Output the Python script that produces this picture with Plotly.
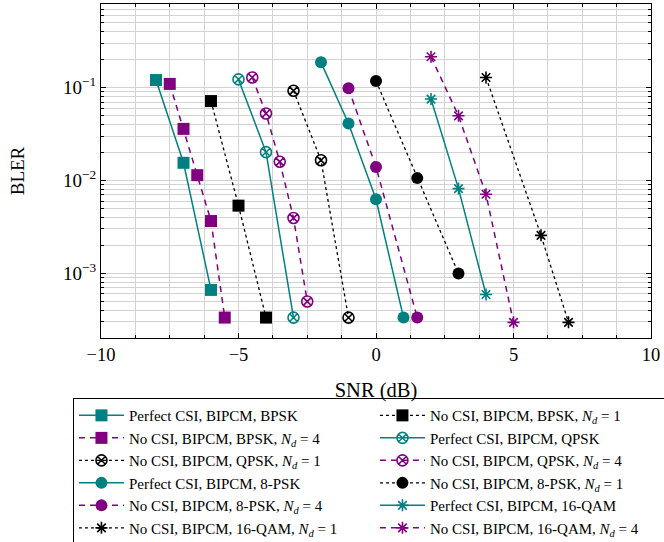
import plotly.graph_objects as go
import numpy as np

# ---- data ----
names = [
    "Perfect CSI, BIPCM, BPSK",
    "No CSI, BIPCM, BPSK, <i>N</i><sub><i>d</i></sub> = 1",
    "No CSI, BIPCM, BPSK, <i>N</i><sub><i>d</i></sub> = 4",
    "Perfect CSI, BIPCM, QPSK",
    "No CSI, BIPCM, QPSK, <i>N</i><sub><i>d</i></sub> = 1",
    "No CSI, BIPCM, QPSK, <i>N</i><sub><i>d</i></sub> = 4",
    "Perfect CSI, BIPCM, 8-PSK",
    "No CSI, BIPCM, 8-PSK, <i>N</i><sub><i>d</i></sub> = 1",
    "No CSI, BIPCM, 8-PSK, <i>N</i><sub><i>d</i></sub> = 4",
    "Perfect CSI, BIPCM, 16-QAM",
    "No CSI, BIPCM, 16-QAM, <i>N</i><sub><i>d</i></sub> = 1",
    "No CSI, BIPCM, 16-QAM, <i>N</i><sub><i>d</i></sub> = 4",
]

bpsk_perf_x = [-8, -7, -6]
bpsk_perf_y = [0.121, 0.0155, 6.6e-4]
bpsk_nd1_x = [-6, -5, -4]
bpsk_nd1_y = [0.0718, 0.00535, 3.32e-4]
bpsk_nd4_x = [-7.5, -7, -6.5, -6, -5.5]
bpsk_nd4_y = [0.11, 0.036, 0.0114, 0.00365, 3.32e-4]

qpsk_perf_x = [-5, -4, -3]
qpsk_perf_y = [0.123, 0.0202, 3.32e-4]
qpsk_nd1_x = [-3, -2, -1]
qpsk_nd1_y = [0.0929, 0.0165, 3.32e-4]
qpsk_nd4_x = [-4.5, -4, -3.5, -3, -2.5]
qpsk_nd4_y = [0.129, 0.0528, 0.0159, 0.00394, 4.95e-4]

psk8_perf_x = [-2, -1, 0, 1]
psk8_perf_y = [0.188, 0.0412, 0.00627, 3.32e-4]
psk8_nd1_x = [0, 1.5, 3]
psk8_nd1_y = [0.118, 0.0106, 9.9e-4]
psk8_nd4_x = [-1, 0, 1.5]
psk8_nd4_y = [0.0985, 0.014, 3.32e-4]

qam16_perf_x = [2, 3, 4]
qam16_perf_y = [0.0755, 0.00817, 5.89e-4]
qam16_nd1_x = [4, 6, 7]
qam16_nd1_y = [0.129, 0.00256, 2.95e-4]
qam16_nd4_x = [2, 3, 4, 5]
qam16_nd4_y = [0.216, 0.0498, 0.0071, 2.95e-4]

xs = [bpsk_perf_x, bpsk_nd1_x, bpsk_nd4_x, qpsk_perf_x, qpsk_nd1_x, qpsk_nd4_x,
      psk8_perf_x, psk8_nd1_x, psk8_nd4_x, qam16_perf_x, qam16_nd1_x, qam16_nd4_x]
ys = [bpsk_perf_y, bpsk_nd1_y, bpsk_nd4_y, qpsk_perf_y, qpsk_nd1_y, qpsk_nd4_y,
      psk8_perf_y, psk8_nd1_y, psk8_nd4_y, qam16_perf_y, qam16_nd1_y, qam16_nd4_y]

x_ticks = [-10, -5, 0, 5, 10]
x_tick_text = ["\u221210", "\u22125", "0", "5", "10"]
y_ticks = [1e-3, 1e-2, 1e-1]
y_tick_text = ["10<sup>\u22123</sup>", "10<sup>\u22122</sup>", "10<sup>\u22121</sup>"]

# ---- styles ----
TEAL = "#008080"
PURPLE = "#800080"
BLACK = "#000000"
styles = {
    "perf": dict(color=TEAL, dash="solid", width=1.5),
    "nd1": dict(color=BLACK, dash="dot", width=1.3),
    "nd4": dict(color=PURPLE, dash="6px,5px", width=1.5),
}
kinds = ["perf", "nd1", "nd4"] * 4
symbols = ["square"] * 3 + ["circle-x-open"] * 3 + ["circle"] * 3 + ["asterisk-open"] * 3
sizes = [12] * 3 + [11] * 3 + [12] * 3 + [10] * 3

fig = go.Figure()
for i in range(12):
    st = styles[kinds[i]]
    c = st["color"]
    fig.add_trace(go.Scatter(
        x=xs[i], y=ys[i], mode="lines+markers", name=names[i],
        line=dict(color=c, dash=st["dash"], width=st["width"]),
        marker=dict(symbol=symbols[i], size=sizes[i], color=c,
                    line=dict(color=c, width=1.6 if "open" in symbols[i] else 0)),
    ))

minor_y = []
for d in [1e-4, 1e-3, 1e-2, 1e-1]:
    for k in range(2, 10):
        v = k * d
        if 2e-4 <= v <= 0.8:
            minor_y.append(v)

GRID = "#d3d3d3"
fig.update_layout(
    width=664, height=542,
    margin=dict(l=101, r=13, t=4, b=204, autoexpand=False),
    paper_bgcolor="white", plot_bgcolor="white",
    font=dict(family="Liberation Serif", size=16, color="black"),
    showlegend=True,
    legend=dict(
        orientation="h", x=-0.051, y=-0.18, xanchor="left", yanchor="top",
        entrywidth=241, entrywidthmode="pixels", itemwidth=45,
        bordercolor="black", borderwidth=1, bgcolor="white",
        font=dict(family="Liberation Serif", size=15, color="black"),
        tracegroupgap=0,
    ),
    xaxis=dict(
        range=[-10, 10], tickvals=x_ticks, ticktext=x_tick_text,
        showgrid=True, gridcolor=GRID, gridwidth=1,
        ticks="inside", ticklen=5, tickcolor="black", mirror="ticks",
        showline=True, linecolor="black", linewidth=1.2, zeroline=False,
        minor=dict(dtick=1.25, tick0=0, showgrid=True, gridcolor=GRID, ticks="inside", ticklen=3, tickcolor="black"),
        title=dict(text="SNR (dB)", standoff=18, font=dict(size=20.5)),
        tickfont=dict(size=18.5),
    ),
    yaxis=dict(
        type="log", range=[np.log10(2e-4), np.log10(0.8)],
        tickvals=y_ticks, ticktext=y_tick_text,
        showgrid=True, gridcolor=GRID, gridwidth=1,
        ticks="inside", ticklen=5, tickcolor="black", mirror="ticks",
        showline=True, linecolor="black", linewidth=1.2, zeroline=False,
        minor=dict(tickvals=minor_y, showgrid=True, gridcolor=GRID, ticks="inside", ticklen=3, tickcolor="black"),
        title=dict(text="BLER", standoff=33, font=dict(size=19)),
        tickfont=dict(size=19),
    ),
)

fig.write_html("out.html", config={"displayModeBar": False},
               post_script="document.body.style.margin='0';")
